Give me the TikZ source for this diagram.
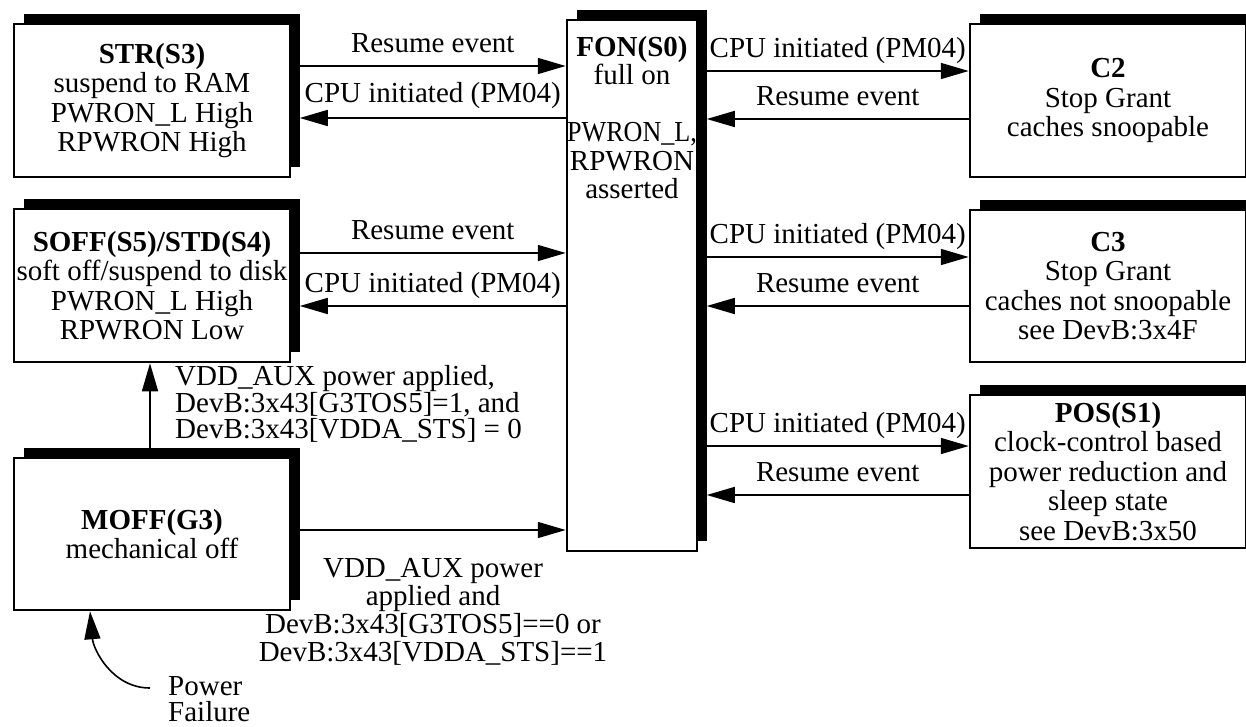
\documentclass[tikz,border=0pt]{standalone}
\usepackage{graphicx}
\usepackage{fontspec}
\setmainfont{Liberation Serif}
\usetikzlibrary{arrows.meta,shadows,calc}
\begin{document}
\begin{tikzpicture}[x=1pt,y=-1pt,
  box/.style={draw, line width=2.5pt, fill=white, inner sep=0pt, align=center,
    general shadow={fill=black, shadow xshift=10pt, shadow yshift=10pt},
    font=\fontsize{29}{29.5}\selectfont},
  fontxt/.style={inner sep=0pt, align=center, font=\fontsize{29}{28.5}\selectfont},
  arr/.style={line width=1.6pt, -{Triangle[length=28pt,width=16pt]}},
  lab/.style={anchor=base, yshift=13.5pt, inner sep=0pt, font=\fontsize{29}{29}\selectfont},
  note/.style={inner sep=0pt, font=\fontsize{29}{#1}\selectfont},
]
\useasboundingbox (0,0) rectangle (1246,727);

% boxes
\node[box, minimum width=276pt, minimum height=153pt] (str) at (152,100.5)
  {\textbf{STR(S3)}\\suspend to RAM\\PWRON\_L High\\RPWRON High};
\node[box, minimum width=276pt, minimum height=153pt] (soff) at (152,285.5)
  {\textbf{SOFF(S5)/STD(S4)}\\soft off/suspend to disk\\PWRON\_L High\\RPWRON Low};
\node[box, minimum width=276pt, minimum height=152pt] (moff) at (152,534)
  {\textbf{MOFF(G3)}\\mechanical off};
\node[box, minimum width=130pt, minimum height=531pt] (fon) at (632,285.5) {};
\node[fontxt, anchor=north] (fontext) at ($(fon.north)+(0,17)$)
  {\textbf{FON(S0)}\\full on\\[28.5pt]\scalebox{0.9}[1]{PWRON\_L,}\\RPWRON\\asserted};
\node[box, minimum width=276pt, minimum height=153pt] (c2) at (1108,100.5)
  {\textbf{C2}\\Stop Grant\\caches snoopable};
\node[box, minimum width=276pt, minimum height=152pt] (c3) at (1108,286)
  {\textbf{C3}\\Stop Grant\\caches not snoopable\\see DevB:3x4F};
\node[box, minimum width=276pt, minimum height=153pt] (pos) at (1108,471.5)
  {\textbf{POS(S1)}\\clock-control based\\power reduction and\\sleep state\\see DevB:3x50};

% y levels
\coordinate (y1) at (0,66);
\coordinate (y2) at (0,118);
\coordinate (y3) at (0,71);
\coordinate (y4) at (0,119);
\coordinate (y5) at (0,253);
\coordinate (y6) at (0,306);
\coordinate (y7) at (0,257);
\coordinate (y8) at (0,306);
\coordinate (y9) at (0,446);
\coordinate (y10) at (0,495);
\coordinate (y11) at (0,530);

% left connectors
\draw[arr] ($(str.east|-y1)+(8.5,0)$) -- node[lab]{Resume event} (fon.west|-y1);
\draw[arr] (fon.west|-y2) -- node[lab, yshift=2pt]{CPU initiated (PM04)} ($(str.east|-y2)+(8.5,0)$);
\draw[arr] ($(soff.east|-y5)+(8.5,0)$) -- node[lab]{Resume event} (fon.west|-y5);
\draw[arr] (fon.west|-y6) -- node[lab]{CPU initiated (PM04)} ($(soff.east|-y6)+(8.5,0)$);
\draw[arr] ($(moff.east|-y11)+(8.5,0)$) -- (fon.west|-y11);

% right connectors
\draw[arr] ($(fon.east|-y3)+(8.5,0)$) -- node[lab]{CPU initiated (PM04)} (c2.west|-y3);
\draw[arr] (c2.west|-y4) -- node[lab]{Resume event} ($(fon.east|-y4)+(8.5,0)$);
\draw[arr] ($(fon.east|-y7)+(8.5,0)$) -- node[lab]{CPU initiated (PM04)} (c3.west|-y7);
\draw[arr] (c3.west|-y8) -- node[lab]{Resume event} ($(fon.east|-y8)+(8.5,0)$);
\draw[arr] ($(fon.east|-y9)+(8.5,0)$) -- node[lab]{CPU initiated (PM04)} (pos.west|-y9);
\draw[arr] (pos.west|-y10) -- node[lab]{Resume event} ($(fon.east|-y10)+(8.5,0)$);

% MOFF -> SOFF
\draw[arr] ($(moff.north)+(-2,-8.5)$) -- ($(soff.south)+(-2,0)$);
\node[note=26.5, anchor=west, align=left] (vdd1) at (175,404)
  {VDD\_AUX power applied,\\DevB:3x43[G3TOS5]=1, and\\DevB:3x43[VDDA\_STS] = 0};

% MOFF -> FON label
\node[note=28, align=center] (vdd2) at (433,612)
  {VDD\_AUX power\\applied and\\DevB:3x43[G3TOS5]==0 or\\DevB:3x43[VDDA\_STS]==1};

% power failure
\node[note=26.5, anchor=west, align=left] (pwr) at (168,699) {Power\\Failure};
\coordinate (pfs) at (150,688);
\draw[arr] (pfs) to[out=180,in=-85] ($(moff.south)+(-62,0)$);
\end{tikzpicture}
\end{document}
